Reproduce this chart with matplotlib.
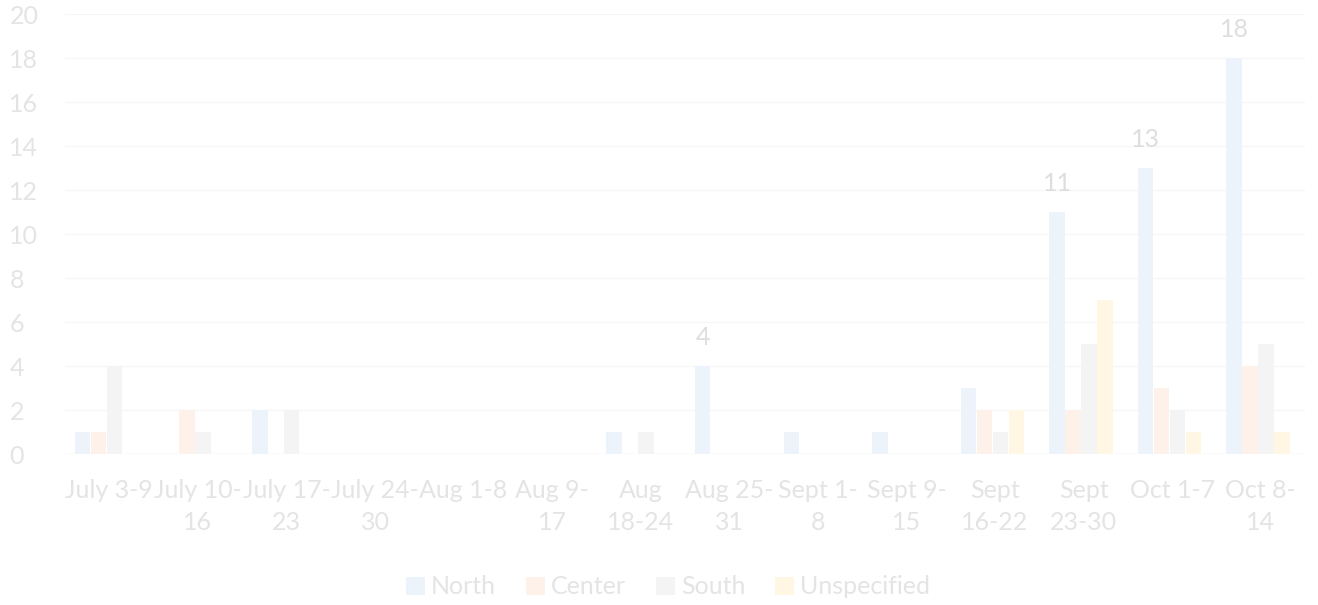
import numpy as np
import matplotlib.pyplot as plt

weeks = ['July 3-9', 'July 10-\n16', 'July 17-\n23', 'July 24-\n30', 'Aug 1-8',
         'Aug 9-\n17', 'Aug\n18-24', 'Aug 25-\n31', 'Sept 1-\n8', 'Sept 9-\n15',
         'Sept\n16-22', 'Sept\n23-30', 'Oct 1-7', 'Oct 8-\n14']
north = [1, 0, 2, 0, 0, 0, 1, 4, 1, 1, 3, 11, 13, 18]
center = [1, 2, 0, 0, 0, 0, 0, 0, 0, 0, 2, 2, 3, 4]
south = [4, 1, 2, 0, 0, 0, 1, 0, 0, 0, 1, 5, 2, 5]
unspecified = [0, 0, 0, 0, 0, 0, 0, 0, 0, 0, 2, 7, 1, 1]
north_labels = ['', '', '', '', '', '', '', '4', '', '', '', '11', '13', '18']

plt.rcParams['font.family'] = ['Lato', 'DejaVu Sans']
txt = '#e4e4e4'
fs = 18

fig = plt.figure(figsize=(13.18, 6.05), dpi=100)
ax = fig.add_axes([65/1318, 1 - 454/605, 1240/1318, 440/605])

x = np.arange(len(weeks))
w = 0.18
series = [('North', north, '#edf3fa'), ('Center', center, '#fdf1ea'),
          ('South', south, '#f4f4f4'), ('Unspecified', unspecified, '#fff7e4')]
bars = []
for i, (name, vals, col) in enumerate(series):
    b = ax.bar(x + (i - 1.5) * w - 0.03, vals, w * 0.97, color=col, label=name, zorder=2)
    bars.append(b)

ax.bar_label(bars[0], labels=north_labels, padding=12, color='#dedede', fontsize=fs)

ax.set_xlim(-0.5, len(weeks) - 0.5)
ax.set_ylim(0, 20)
ax.set_yticks(range(0, 21, 2))
ax.set_xticks(x)
ax.set_xticklabels(weeks, linespacing=1.5)
ax.tick_params(axis='both', length=0, colors=txt, labelsize=fs)
ax.tick_params(axis='y', pad=40)
ax.tick_params(axis='x', pad=18)
for lbl in ax.get_yticklabels():
    lbl.set_horizontalalignment('left')
ax.grid(axis='y', color='#f6f6f6', linewidth=1, zorder=0)
for s in ax.spines.values():
    s.set_visible(False)
ax.axhline(0, color='#f3f3f3', linewidth=1, zorder=1)

leg = fig.legend(loc='center', bbox_to_anchor=(0.507, 1 - 587/605), ncol=4, frameon=False,
                 fontsize=fs, handlelength=0.75, handleheight=0.75, handletextpad=0.25,
                 columnspacing=1.2, labelcolor=txt)

fig.savefig('out.png', dpi=100)
